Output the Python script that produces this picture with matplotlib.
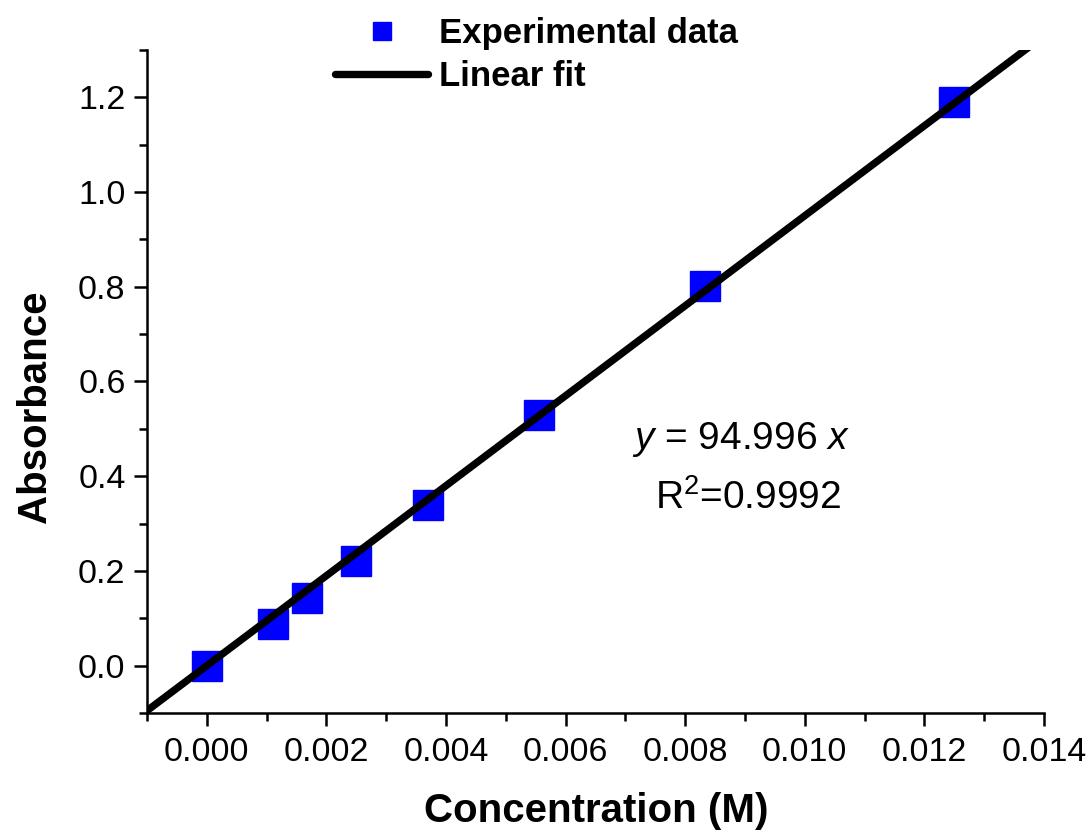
import matplotlib
matplotlib.use("Agg")
import matplotlib.pyplot as plt
import numpy as np
from matplotlib.ticker import FixedLocator

plt.rcParams['font.family'] = ['Liberation Sans', 'DejaVu Sans']
plt.rcParams['mathtext.fontset'] = 'custom'
plt.rcParams['mathtext.rm'] = 'Liberation Sans'
plt.rcParams['mathtext.it'] = 'Liberation Sans:italic'
plt.rcParams['mathtext.bf'] = 'Liberation Sans:bold'

conc = [0.0, 0.00111, 0.00167, 0.0025, 0.0037, 0.00556, 0.00833, 0.0125]
absorb = [0.0, 0.089, 0.142, 0.222, 0.339, 0.529, 0.802, 1.191]
slope = 94.996
fit_x = [-0.001, 0.014]
fit_y = [slope * v for v in fit_x]
x_major = [0, 0.002, 0.004, 0.006, 0.008, 0.010, 0.012, 0.014]
x_minor = [-0.001, 0.001, 0.003, 0.005, 0.007, 0.009, 0.011, 0.013]
x_labels = ['0.000', '0.002', '0.004', '0.006', '0.008', '0.010', '0.012', '0.014']
y_major = [0.0, 0.2, 0.4, 0.6, 0.8, 1.0, 1.2]
y_minor = [-0.1, 0.1, 0.3, 0.5, 0.7, 0.9, 1.1, 1.3]
y_labels = ['0.0', '0.2', '0.4', '0.6', '0.8', '1.0', '1.2']

fig = plt.figure(figsize=(10.9, 8.32), dpi=100)
ax = fig.add_axes([0.1349, 0.1430, 0.8229, 0.797])

ax.plot(fit_x, fit_y, color='black', lw=5.3, solid_capstyle='round', label='Linear fit', zorder=3)
ax.plot(conc, absorb, 's', color='#0000ff', ms=21, mec='#0000ff', label='Experimental data',
        zorder=2, linestyle='none')

ax.set_xlim(-0.001, 0.014)
ax.set_ylim(-0.1, 1.3)
ax.spines['top'].set_visible(False)
ax.spines['right'].set_visible(False)
for s in ['left', 'bottom']:
    ax.spines[s].set_linewidth(1.8)

ax.xaxis.set_major_locator(FixedLocator(x_major))
ax.xaxis.set_minor_locator(FixedLocator(x_minor))
ax.yaxis.set_major_locator(FixedLocator(y_major))
ax.yaxis.set_minor_locator(FixedLocator(y_minor))
ax.set_xticklabels(x_labels)
ax.set_yticklabels(y_labels)
ax.tick_params(which='major', direction='out', length=9.5, width=1.8, labelsize=24.5)
ax.tick_params(axis='x', which='major', pad=8)
ax.tick_params(axis='y', which='major', pad=6)
ax.tick_params(which='minor', direction='out', length=5.5, width=1.8)

fig.text(596 / 1090, 1 - 822 / 832, 'Concentration (M)', fontsize=29, fontweight='bold',
         ha='center', va='baseline')
fig.text(35 / 1090, 1 - 407 / 832, 'Absorbance', fontsize=29, fontweight='bold',
         ha='center', va='center', rotation=90)

ax.text(0.008927, 0.457, r'$\mathit{y}$ = 94.996 $\mathit{x}$', fontsize=28, ha='center', va='baseline')
ax.text(0.00906, 0.330, r'R$^\mathrm{2}$=0.9992', fontsize=28, ha='center', va='baseline')

handles, labels = ax.get_legend_handles_labels()
leg = fig.legend(handles[::-1], labels[::-1], loc='upper left',
                 bbox_to_anchor=(335 / 1090, 1 - 17 / 832), bbox_transform=fig.transFigure,
                 frameon=False, prop={'size': 25, 'weight': 'bold'}, handlelength=2.68,
                 handletextpad=0.32, labelspacing=0.28, markerscale=0.65,
                 borderpad=0, borderaxespad=0)

fig.savefig('out.png', dpi=100)
